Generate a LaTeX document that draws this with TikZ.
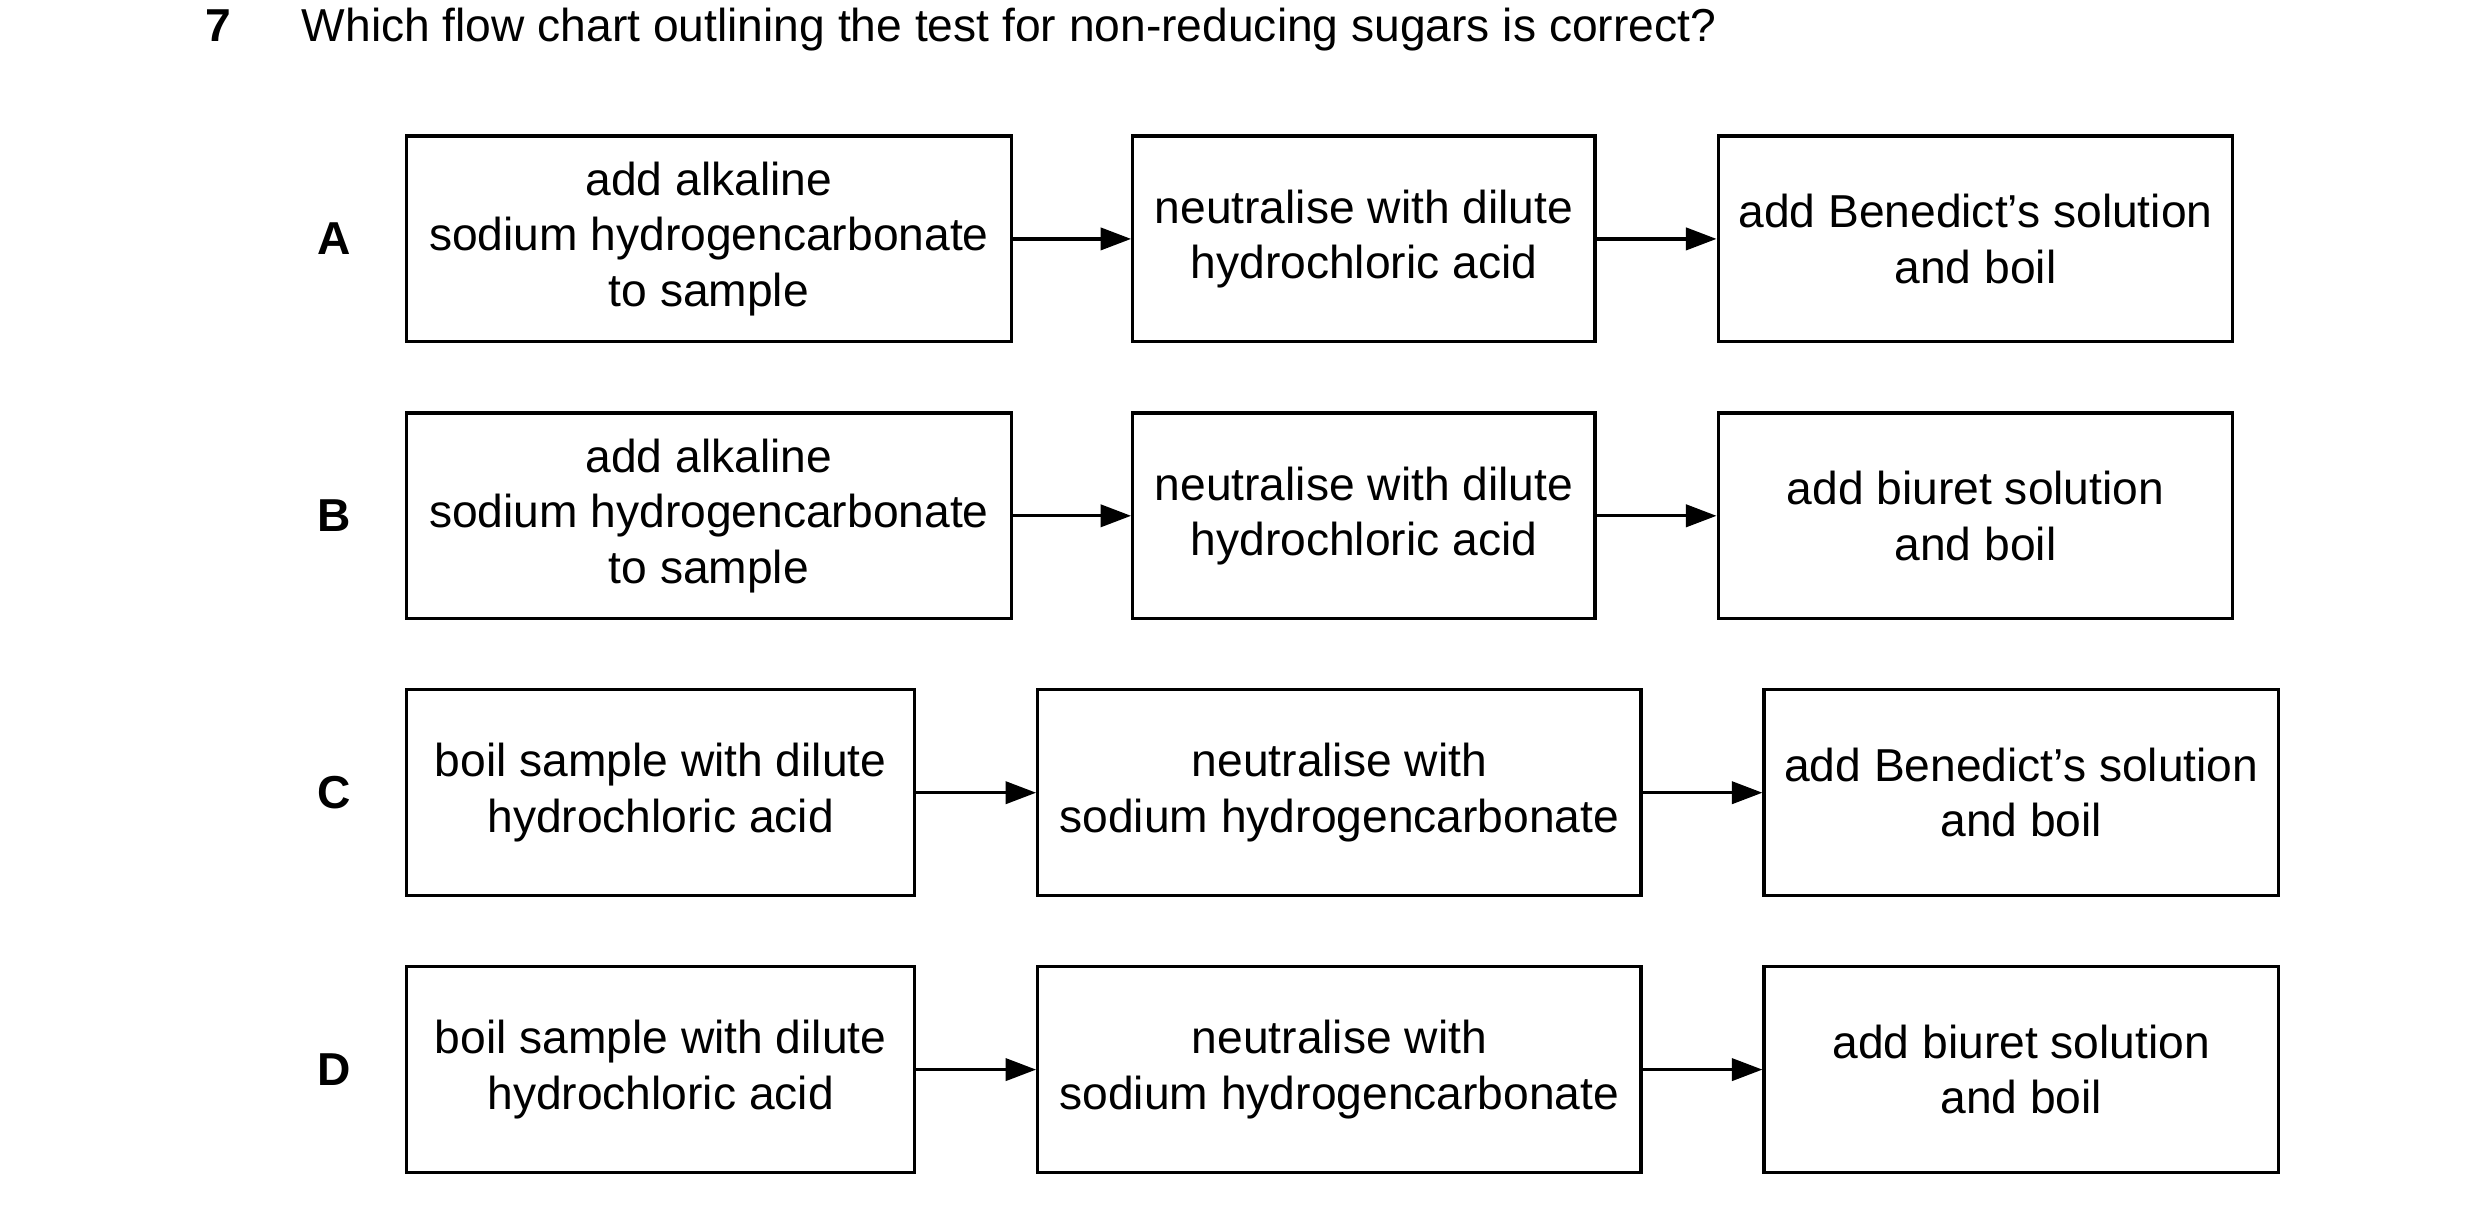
\documentclass[tikz,border=0pt]{standalone}
\usepackage{fontspec}
\setmainfont{Liberation Sans}
\usetikzlibrary{arrows.meta, positioning}
\begin{document}
\begin{tikzpicture}[x=0.01cm,y=-0.01cm,
	font=\fontsize{8.3}{9.96}\selectfont,
	stage/.style={draw, line width=0.6pt, inner sep=0pt, align=center, minimum height=1.3cm},
	lbl/.style={font=\fontsize{8.3}{9.96}\selectfont\bfseries},
	flow/.style={-{Triangle[length=5.5pt,width=4pt]}, line width=0.6pt}]
	\useasboundingbox (0,0) rectangle (1568,767);
	\node[lbl, anchor=base] (qno) at (138,26) {7};
	\node[anchor=base west, inner sep=0pt] (qtext) at (190,26) {Which flow chart outlining the test for non-reducing sugars is correct?};
	% A
	\node[lbl] (la) at (211,151) {A};
	\node[stage, minimum width=3.82cm] (a1) at (448,151) {add alkaline\\sodium hydrogencarbonate\\to sample};
	\node[stage, minimum width=2.92cm] (a2) at (862,151) {neutralise with dilute\\hydrochloric acid};
	\node[stage, minimum width=3.25cm] (a3) at (1248.5,151) {add Benedict’s solution\\and boil};
	% B
	\node[lbl] (lb) at (211,326) {B};
	\node[stage, minimum width=3.82cm] (b1) at (448,326) {add alkaline\\sodium hydrogencarbonate\\to sample};
	\node[stage, minimum width=2.92cm] (b2) at (862,326) {neutralise with dilute\\hydrochloric acid};
	\node[stage, minimum width=3.25cm] (b3) at (1248.5,326) {add biuret solution\\and boil};
	% C
	\node[lbl] (lc) at (211,501) {C};
	\node[stage, minimum width=3.21cm] (c1) at (417.5,501) {boil sample with dilute\\hydrochloric acid};
	\node[stage, minimum width=3.81cm] (c2) at (846.5,501) {neutralise with\\sodium hydrogencarbonate};
	\node[stage, minimum width=3.25cm] (c3) at (1277.5,501) {add Benedict’s solution\\and boil};
	% D
	\node[lbl] (ld) at (211,676) {D};
	\node[stage, minimum width=3.21cm] (d1) at (417.5,676) {boil sample with dilute\\hydrochloric acid};
	\node[stage, minimum width=3.81cm] (d2) at (846.5,676) {neutralise with\\sodium hydrogencarbonate};
	\node[stage, minimum width=3.25cm] (d3) at (1277.5,676) {add biuret solution\\and boil};

	\draw[flow] (a1) -- (a2);
	\draw[flow] (a2) -- (a3);
	\draw[flow] (b1) -- (b2);
	\draw[flow] (b2) -- (b3);
	\draw[flow] (c1) -- (c2);
	\draw[flow] (c2) -- (c3);
	\draw[flow] (d1) -- (d2);
	\draw[flow] (d2) -- (d3);
\end{tikzpicture}
\end{document}
